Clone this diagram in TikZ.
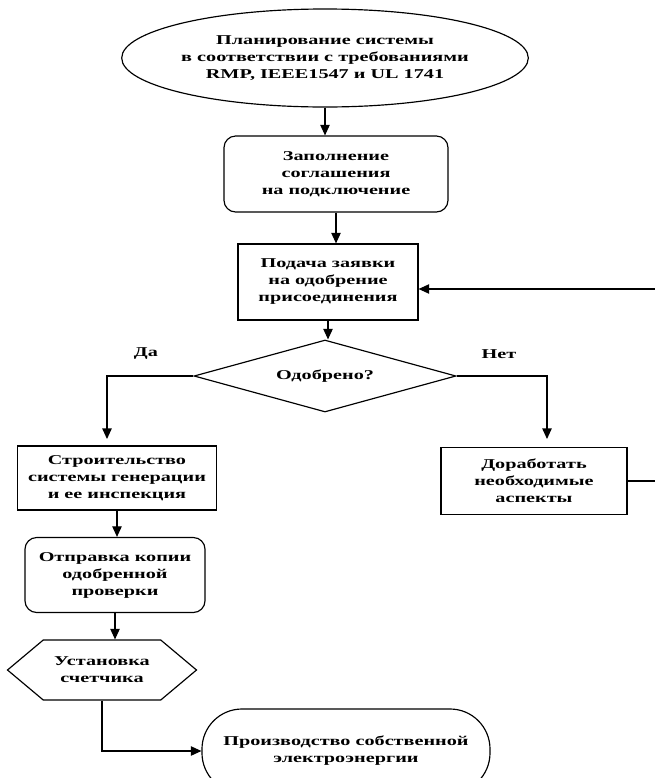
\documentclass[tikz,border=0pt]{standalone}
\usepackage{fontspec}
\setmainfont{Liberation Serif}[FakeStretch=1.5]
\usepackage{tikz}
\usetikzlibrary{positioning}
\usetikzlibrary{arrows.meta,shapes}
\usetikzlibrary{calc}
\newcommand{\blocktxt}{\bfseries\fontsize{11.5}{14.5}\selectfont}
\tikzstyle{block}=[rectangle,draw,line width=1pt,align=center,inner sep=0pt,font=\blocktxt]
\tikzstyle{rblock}=[block,rounded corners=10pt]
\tikzstyle{term}=[ellipse,draw,line width=1pt,align=center,inner sep=0pt,font=\blocktxt]
\tikzstyle{stadium}=[block,rounded corners=1.2cm]
\tikzstyle{decide}=[diamond,draw,line width=1pt,inner sep=0pt,aspect=3.6,font=\blocktxt]
\tikzstyle{prep}=[signal,signal to=west and east,signal pointer angle=80,draw,line width=1pt,align=center,inner sep=0pt,font=\blocktxt]
\tikzstyle{edge} = [draw,line width=1pt,-{Triangle[length=9pt,width=8pt]}]
\tikzstyle{undirectededge} = [draw,line width=1pt]
\tikzset{branch/.style={font=\blocktxt}}

\begin{document}
\begin{tikzpicture}[x=0.03cm,y=-0.03cm]

  \useasboundingbox (0,0) rectangle (655,778);
  \clip (0,0) rectangle (655,778);

  \node[term,minimum width=10.44cm,minimum height=2.94cm] (plan) at (325,58)
       {Планирование системы\\в соответствии с требованиями\\RMP, IEEE1547 и UL 1741};
  \node[rblock,minimum width=6.72cm,minimum height=2.28cm] (fill) at (336,174)
       {Заполнение\\соглашения\\на подключение};
  \node[block,minimum width=5.4cm,minimum height=2.28cm] (apply) at (328,282)
       {Подача заявки\\на одобрение\\присоединения};
  \node[decide,minimum width=7.86cm,minimum height=2.16cm] (ok) at (325,376) {Одобрено?};

  \node[block,minimum width=5.97cm,minimum height=1.92cm] (build) at (117,478)
       {Строительство\\системы генерации\\и ее инспекция};
  \node[rblock,minimum width=5.4cm,minimum height=2.25cm] (send) at (115,575)
       {Отправка копии\\одобренной\\проверки};
  \node[prep,minimum width=5.67cm,minimum height=1.8cm] (meter) at (102,670)
       {Установка\\счетчика};
  \node[stadium,minimum width=8.64cm,minimum height=2.52cm] (prod) at (346,751)
       {Производство собственной\\электроэнергии};

  \node[block,minimum width=5.58cm,minimum height=2.01cm] (rework) at (534,481)
       {Доработать\\необходимые\\аспекты};

  % free ends
  \coordinate (yes) at (107,439);
  \coordinate (no) at (547,439);
  \coordinate (rwout) at (655,481);
  \coordinate (fbin) at (655,289);

  \foreach \source/ \dest in {plan/fill, fill/apply, apply/ok, build/send, send/meter}
         \path[edge] (\source.south) -- (\source.south |- \dest.north);

  \path[edge] (ok.west) -| (yes);
  \path[edge] (ok.east) -| (no);
  \path[undirectededge] (rework.east) -- (rwout);
  \path[edge] (fbin) -- (fbin -| apply.east);
  \path[edge] (meter.south) |- (prod.west);

  \node[branch] (da) at (146,354) {Да};
  \node[branch] (net) at (499,354) {Нет};

\end{tikzpicture}
\end{document}
